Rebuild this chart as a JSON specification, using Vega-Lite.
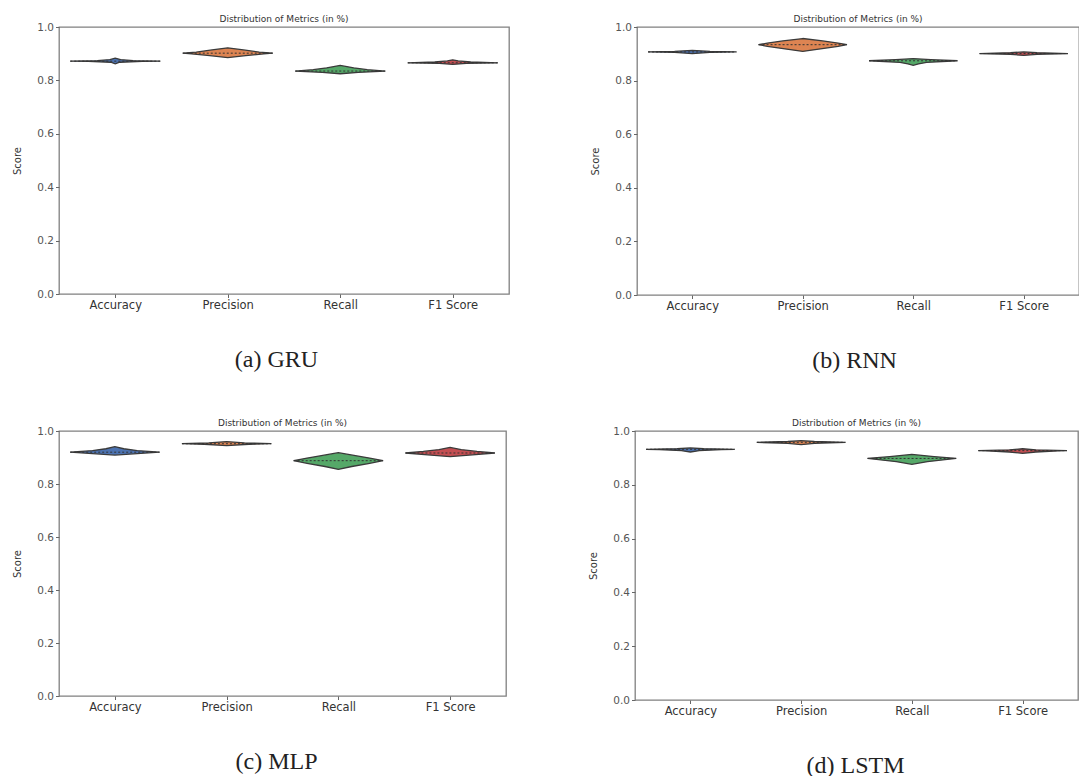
{
  "$schema": "https://vega.github.io/schema/vega-lite/v6.json",
  "padding": {"left": 12, "top": 13, "right": 0, "bottom": 0},
  "background": "white",
  "data": {"values": [
    {"model":"GRU","metric":"Accuracy","idx":0,"score":0.862,"w":0},
    {"model":"GRU","metric":"Accuracy","idx":0,"score":0.868,"w":0.1},
    {"model":"GRU","metric":"Accuracy","idx":0,"score":0.871,"w":0.6},
    {"model":"GRU","metric":"Accuracy","idx":0,"score":0.872,"w":1},
    {"model":"GRU","metric":"Accuracy","idx":0,"score":0.874,"w":0.4},
    {"model":"GRU","metric":"Accuracy","idx":0,"score":0.878,"w":0.12},
    {"model":"GRU","metric":"Accuracy","idx":0,"score":0.883,"w":0},
    {"model":"GRU","metric":"Precision","idx":1,"score":0.885,"w":0},
    {"model":"GRU","metric":"Precision","idx":1,"score":0.893,"w":0.4},
    {"model":"GRU","metric":"Precision","idx":1,"score":0.899,"w":0.8},
    {"model":"GRU","metric":"Precision","idx":1,"score":0.902,"w":1},
    {"model":"GRU","metric":"Precision","idx":1,"score":0.906,"w":0.7},
    {"model":"GRU","metric":"Precision","idx":1,"score":0.914,"w":0.35},
    {"model":"GRU","metric":"Precision","idx":1,"score":0.922,"w":0},
    {"model":"GRU","metric":"Recall","idx":2,"score":0.825,"w":0},
    {"model":"GRU","metric":"Recall","idx":2,"score":0.830,"w":0.4},
    {"model":"GRU","metric":"Recall","idx":2,"score":0.835,"w":1},
    {"model":"GRU","metric":"Recall","idx":2,"score":0.840,"w":0.6},
    {"model":"GRU","metric":"Recall","idx":2,"score":0.847,"w":0.3},
    {"model":"GRU","metric":"Recall","idx":2,"score":0.856,"w":0},
    {"model":"GRU","metric":"F1 Score","idx":3,"score":0.860,"w":0},
    {"model":"GRU","metric":"F1 Score","idx":3,"score":0.864,"w":0.3},
    {"model":"GRU","metric":"F1 Score","idx":3,"score":0.866,"w":1},
    {"model":"GRU","metric":"F1 Score","idx":3,"score":0.869,"w":0.4},
    {"model":"GRU","metric":"F1 Score","idx":3,"score":0.873,"w":0.12},
    {"model":"GRU","metric":"F1 Score","idx":3,"score":0.877,"w":0},

    {"model":"RNN","metric":"Accuracy","idx":0,"score":0.901,"w":0},
    {"model":"RNN","metric":"Accuracy","idx":0,"score":0.905,"w":0.4},
    {"model":"RNN","metric":"Accuracy","idx":0,"score":0.907,"w":1},
    {"model":"RNN","metric":"Accuracy","idx":0,"score":0.909,"w":0.4},
    {"model":"RNN","metric":"Accuracy","idx":0,"score":0.913,"w":0},
    {"model":"RNN","metric":"Precision","idx":1,"score":0.909,"w":0},
    {"model":"RNN","metric":"Precision","idx":1,"score":0.918,"w":0.4},
    {"model":"RNN","metric":"Precision","idx":1,"score":0.928,"w":0.8},
    {"model":"RNN","metric":"Precision","idx":1,"score":0.934,"w":1},
    {"model":"RNN","metric":"Precision","idx":1,"score":0.940,"w":0.8},
    {"model":"RNN","metric":"Precision","idx":1,"score":0.948,"w":0.45},
    {"model":"RNN","metric":"Precision","idx":1,"score":0.957,"w":0},
    {"model":"RNN","metric":"Recall","idx":2,"score":0.857,"w":0},
    {"model":"RNN","metric":"Recall","idx":2,"score":0.862,"w":0.12},
    {"model":"RNN","metric":"Recall","idx":2,"score":0.868,"w":0.3},
    {"model":"RNN","metric":"Recall","idx":2,"score":0.874,"w":1},
    {"model":"RNN","metric":"Recall","idx":2,"score":0.878,"w":0.4},
    {"model":"RNN","metric":"Recall","idx":2,"score":0.882,"w":0},
    {"model":"RNN","metric":"F1 Score","idx":3,"score":0.894,"w":0},
    {"model":"RNN","metric":"F1 Score","idx":3,"score":0.898,"w":0.3},
    {"model":"RNN","metric":"F1 Score","idx":3,"score":0.901,"w":1},
    {"model":"RNN","metric":"F1 Score","idx":3,"score":0.904,"w":0.3},
    {"model":"RNN","metric":"F1 Score","idx":3,"score":0.907,"w":0},

    {"model":"MLP","metric":"Accuracy","idx":0,"score":0.909,"w":0},
    {"model":"MLP","metric":"Accuracy","idx":0,"score":0.915,"w":0.5},
    {"model":"MLP","metric":"Accuracy","idx":0,"score":0.920,"w":1},
    {"model":"MLP","metric":"Accuracy","idx":0,"score":0.926,"w":0.5},
    {"model":"MLP","metric":"Accuracy","idx":0,"score":0.933,"w":0.2},
    {"model":"MLP","metric":"Accuracy","idx":0,"score":0.941,"w":0},
    {"model":"MLP","metric":"Precision","idx":1,"score":0.945,"w":0},
    {"model":"MLP","metric":"Precision","idx":1,"score":0.950,"w":0.5},
    {"model":"MLP","metric":"Precision","idx":1,"score":0.952,"w":1},
    {"model":"MLP","metric":"Precision","idx":1,"score":0.955,"w":0.4},
    {"model":"MLP","metric":"Precision","idx":1,"score":0.960,"w":0},
    {"model":"MLP","metric":"Recall","idx":2,"score":0.855,"w":0},
    {"model":"MLP","metric":"Recall","idx":2,"score":0.866,"w":0.3},
    {"model":"MLP","metric":"Recall","idx":2,"score":0.878,"w":0.7},
    {"model":"MLP","metric":"Recall","idx":2,"score":0.888,"w":1},
    {"model":"MLP","metric":"Recall","idx":2,"score":0.898,"w":0.7},
    {"model":"MLP","metric":"Recall","idx":2,"score":0.908,"w":0.35},
    {"model":"MLP","metric":"Recall","idx":2,"score":0.918,"w":0},
    {"model":"MLP","metric":"F1 Score","idx":3,"score":0.903,"w":0},
    {"model":"MLP","metric":"F1 Score","idx":3,"score":0.910,"w":0.5},
    {"model":"MLP","metric":"F1 Score","idx":3,"score":0.917,"w":1},
    {"model":"MLP","metric":"F1 Score","idx":3,"score":0.923,"w":0.6},
    {"model":"MLP","metric":"F1 Score","idx":3,"score":0.930,"w":0.25},
    {"model":"MLP","metric":"F1 Score","idx":3,"score":0.938,"w":0},

    {"model":"LSTM","metric":"Accuracy","idx":0,"score":0.922,"w":0},
    {"model":"LSTM","metric":"Accuracy","idx":0,"score":0.927,"w":0.2},
    {"model":"LSTM","metric":"Accuracy","idx":0,"score":0.931,"w":0.7},
    {"model":"LSTM","metric":"Accuracy","idx":0,"score":0.932,"w":1},
    {"model":"LSTM","metric":"Accuracy","idx":0,"score":0.934,"w":0.3},
    {"model":"LSTM","metric":"Accuracy","idx":0,"score":0.937,"w":0},
    {"model":"LSTM","metric":"Precision","idx":1,"score":0.949,"w":0},
    {"model":"LSTM","metric":"Precision","idx":1,"score":0.954,"w":0.3},
    {"model":"LSTM","metric":"Precision","idx":1,"score":0.958,"w":1},
    {"model":"LSTM","metric":"Precision","idx":1,"score":0.961,"w":0.3},
    {"model":"LSTM","metric":"Precision","idx":1,"score":0.964,"w":0},
    {"model":"LSTM","metric":"Recall","idx":2,"score":0.876,"w":0},
    {"model":"LSTM","metric":"Recall","idx":2,"score":0.886,"w":0.35},
    {"model":"LSTM","metric":"Recall","idx":2,"score":0.898,"w":1},
    {"model":"LSTM","metric":"Recall","idx":2,"score":0.905,"w":0.5},
    {"model":"LSTM","metric":"Recall","idx":2,"score":0.913,"w":0},
    {"model":"LSTM","metric":"F1 Score","idx":3,"score":0.917,"w":0},
    {"model":"LSTM","metric":"F1 Score","idx":3,"score":0.922,"w":0.3},
    {"model":"LSTM","metric":"F1 Score","idx":3,"score":0.926,"w":0.8},
    {"model":"LSTM","metric":"F1 Score","idx":3,"score":0.927,"w":1},
    {"model":"LSTM","metric":"F1 Score","idx":3,"score":0.930,"w":0.3},
    {"model":"LSTM","metric":"F1 Score","idx":3,"score":0.934,"w":0}
  ]},
  "transform": [
    {"calculate": "datum.idx - 0.4 * datum.w", "as": "lo"},
    {"calculate": "datum.idx + 0.4 * datum.w", "as": "hi"}
  ],
  "spacing": 44,
  "vconcat": [
    {
      "spacing": 80,
      "hconcat": [
        {
          "width": 450, "height": 267,
          "title": "Distribution of Metrics (in %)",
          "transform": [{"filter": "datum.model == 'GRU'"}],
          "encoding": {
            "y": {"field": "score", "type": "quantitative", "scale": {"domain": [0, 1]}, "axis": {"title": "Score", "values": [0, 0.2, 0.4, 0.6, 0.8, 1.0], "format": ".1f"}},
            "x": {"field": "lo", "type": "quantitative", "scale": {"domain": [-0.5, 3.5]}, "axis": {"title": "(a) GRU", "titleX": 217, "values": [0, 1, 2, 3], "labelExpr": "['Accuracy','Precision','Recall','F1 Score'][datum.value]"}}
          },
          "layer": [
            {"mark": {"type": "area", "orient": "horizontal", "stroke": "#3a3a3a", "strokeWidth": 1.3, "fillOpacity": 1},
             "encoding": {"x2": {"field": "hi"}, "color": {"field": "metric", "type": "nominal", "scale": {"domain": ["Accuracy","Precision","Recall","F1 Score"], "range": ["#4c72b0","#dd8452","#55a868","#c44e52"]}, "legend": null}}},
            {"transform": [{"filter": "datum.w == 1"}], "mark": {"type": "rule", "color": "#333333", "strokeWidth": 1, "strokeDash": [2, 2]}, "encoding": {"x2": {"field": "hi"}}}
          ]
        },
        {
          "width": 442, "height": 268,
          "title": "Distribution of Metrics (in %)",
          "transform": [{"filter": "datum.model == 'RNN'"}],
          "encoding": {
            "y": {"field": "score", "type": "quantitative", "scale": {"domain": [0, 1]}, "axis": {"title": "Score", "values": [0, 0.2, 0.4, 0.6, 0.8, 1.0], "format": ".1f"}},
            "x": {"field": "lo", "type": "quantitative", "scale": {"domain": [-0.5, 3.5]}, "axis": {"title": "(b) RNN", "titleX": 217, "values": [0, 1, 2, 3], "labelExpr": "['Accuracy','Precision','Recall','F1 Score'][datum.value]"}}
          },
          "layer": [
            {"mark": {"type": "area", "orient": "horizontal", "stroke": "#3a3a3a", "strokeWidth": 1.3, "fillOpacity": 1},
             "encoding": {"x2": {"field": "hi"}, "color": {"field": "metric", "type": "nominal", "scale": {"domain": ["Accuracy","Precision","Recall","F1 Score"], "range": ["#4c72b0","#dd8452","#55a868","#c44e52"]}, "legend": null}}},
            {"transform": [{"filter": "datum.w == 1"}], "mark": {"type": "rule", "color": "#333333", "strokeWidth": 1, "strokeDash": [2, 2]}, "encoding": {"x2": {"field": "hi"}}}
          ]
        }
      ]
    },
    {
      "spacing": 81,
      "hconcat": [
        {
          "width": 447, "height": 265,
          "title": "Distribution of Metrics (in %)",
          "transform": [{"filter": "datum.model == 'MLP'"}],
          "encoding": {
            "y": {"field": "score", "type": "quantitative", "scale": {"domain": [0, 1]}, "axis": {"title": "Score", "values": [0, 0.2, 0.4, 0.6, 0.8, 1.0], "format": ".1f"}},
            "x": {"field": "lo", "type": "quantitative", "scale": {"domain": [-0.5, 3.5]}, "axis": {"title": "(c) MLP", "titleX": 217, "values": [0, 1, 2, 3], "labelExpr": "['Accuracy','Precision','Recall','F1 Score'][datum.value]"}}
          },
          "layer": [
            {"mark": {"type": "area", "orient": "horizontal", "stroke": "#3a3a3a", "strokeWidth": 1.3, "fillOpacity": 1},
             "encoding": {"x2": {"field": "hi"}, "color": {"field": "metric", "type": "nominal", "scale": {"domain": ["Accuracy","Precision","Recall","F1 Score"], "range": ["#4c72b0","#dd8452","#55a868","#c44e52"]}, "legend": null}}},
            {"transform": [{"filter": "datum.w == 1"}], "mark": {"type": "rule", "color": "#333333", "strokeWidth": 1, "strokeDash": [2, 2]}, "encoding": {"x2": {"field": "hi"}}}
          ]
        },
        {
          "width": 443, "height": 269,
          "title": "Distribution of Metrics (in %)",
          "transform": [{"filter": "datum.model == 'LSTM'"}],
          "encoding": {
            "y": {"field": "score", "type": "quantitative", "scale": {"domain": [0, 1]}, "axis": {"title": "Score", "values": [0, 0.2, 0.4, 0.6, 0.8, 1.0], "format": ".1f"}},
            "x": {"field": "lo", "type": "quantitative", "scale": {"domain": [-0.5, 3.5]}, "axis": {"title": "(d) LSTM", "titleX": 220, "values": [0, 1, 2, 3], "labelExpr": "['Accuracy','Precision','Recall','F1 Score'][datum.value]"}}
          },
          "layer": [
            {"mark": {"type": "area", "orient": "horizontal", "stroke": "#3a3a3a", "strokeWidth": 1.3, "fillOpacity": 1},
             "encoding": {"x2": {"field": "hi"}, "color": {"field": "metric", "type": "nominal", "scale": {"domain": ["Accuracy","Precision","Recall","F1 Score"], "range": ["#4c72b0","#dd8452","#55a868","#c44e52"]}, "legend": null}}},
            {"transform": [{"filter": "datum.w == 1"}], "mark": {"type": "rule", "color": "#333333", "strokeWidth": 1, "strokeDash": [2, 2]}, "encoding": {"x2": {"field": "hi"}}}
          ]
        }
      ]
    }
  ],
  "config": {
    "view": {"stroke": "#808080", "strokeWidth": 1.3},
    "axis": {"domain": false, "grid": false, "tickColor": "#666666", "tickSize": 3.5, "labelPadding": 2,
             "labelFont": "DejaVu Sans", "labelFontSize": 11, "labelColor": "#444444",
             "titleFont": "DejaVu Sans", "titleFontSize": 10, "titleFontWeight": "normal", "titleColor": "#333333"},
    "axisY": {"titlePadding": 14, "labelColor": "#555555", "labelFontSize": 10.5},
    "axisX": {"titleFont": "Liberation Serif", "titleFontSize": 24, "titleColor": "#222222", "titlePadding": 36, "labelColor": "#333333", "labelFontSize": 11.5},
    "title": {"font": "DejaVu Sans", "fontSize": 9, "fontWeight": "normal", "color": "#333333", "offset": -1.5}
  }
}
